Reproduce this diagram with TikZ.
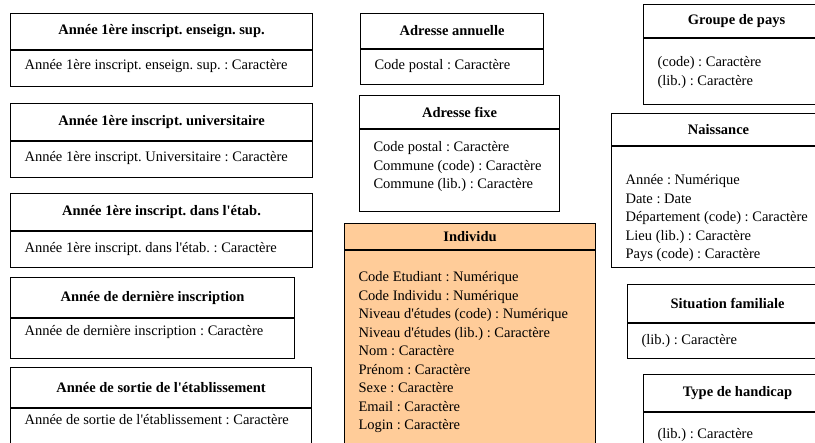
\documentclass[tikz,border=0pt]{standalone}
\usepackage{fontspec}
\setmainfont{Liberation Serif}
\usepackage{tikz}

\begin{document}
\frenchspacing
\begin{tikzpicture}[x=1pt, y=-1pt,
    every node/.style={font=\fontsize{14.5}{18.5}\selectfont},
    titre/.style={draw, line width=1.1pt, anchor=north west, inner sep=0pt,
                  font=\fontsize{14.5}{18.5}\selectfont\bfseries},
    corps/.style={draw, line width=1.1pt, anchor=north west, inner xsep=14pt, inner ysep=0pt}]
    \useasboundingbox (0,0) rectangle (815,443);
    \clip (0,0) rectangle (815,443);

    % colonne de gauche
    \node[titre, minimum width=302pt, minimum height=36pt] at (10,13)  (t1) {Année 1ère inscript. enseign. sup.};
    \node[corps, minimum width=302pt] at (t1.south west) (c1)
        {\parbox[t][36pt][t]{274pt}{\vspace*{6pt}\strut Année 1ère inscript. enseign. sup. : Caractère}};

    \node[titre, minimum width=302pt, minimum height=37pt] at (10,103) (t2) {Année 1ère inscript. universitaire};
    \node[corps, minimum width=302pt] at (t2.south west) (c2)
        {\parbox[t][36pt][t]{274pt}{\vspace*{7pt}\strut Année 1ère inscript. Universitaire : Caractère}};

    \node[titre, minimum width=302pt, minimum height=37pt] at (10,193) (t3) {Année 1ère inscript. dans l\textquotesingle étab.};
    \node[corps, minimum width=302pt] at (t3.south west) (c3)
        {\parbox[t][36pt][t]{274pt}{\vspace*{8pt}\strut Année 1ère inscript. dans l\textquotesingle étab. : Caractère}};

    \node[titre, minimum width=284pt, minimum height=40pt] at (10,277) (t4) {Année de dernière inscription};
    \node[corps, minimum width=284pt] at (t4.south west) (c4)
        {\parbox[t][40pt][t]{256pt}{\vspace*{4pt}\strut Année de dernière inscription : Caractère}};

    \node[titre, minimum width=301pt, minimum height=40pt] at (10,367) (t5) {Année de sortie de l\textquotesingle établissement};
    \node[corps, minimum width=301pt] at (t5.south west) (c5)
        {\parbox[t][60pt][t]{273pt}{\vspace*{3pt}\strut Année de sortie de l\textquotesingle établissement : Caractère}};

    % colonne du milieu
    \node[titre, minimum width=183pt, minimum height=35pt] at (360,13) (annuelle) {Adresse annuelle};
    \node[corps, minimum width=183pt] at (annuelle.south west) (annuelle-c)
        {\parbox[t][35pt][t]{155pt}{\vspace*{7pt}\strut Code postal : Caractère}};

    \node[titre, minimum width=200pt, minimum height=33pt] at (359,95) (fixe) {Adresse fixe};
    \node[corps, minimum width=200pt] at (fixe.south west) (fixe-c)
        {\parbox[t][82pt][t]{172pt}{\vspace*{9pt}\strut Code postal : Caractère\\
         Commune (code) : Caractère\\
         Commune (lib.) : Caractère}};

    \node[titre, fill=orange!40!white, minimum width=251pt, minimum height=26pt] at (344,223) (individu) {Individu};
    \node[corps, fill=orange!40!white, minimum width=251pt] at (individu.south west) (individu-c)
        {\parbox[t][220pt][t]{223pt}{\vspace*{18pt}\strut Code Etudiant : Numérique\\
         Code Individu : Numérique\\
         Niveau d\textquotesingle études (code) : Numérique\\
         Niveau d\textquotesingle études (lib.) : Caractère\\
         Nom : Caractère\\
         Prénom : Caractère\\
         Sexe : Caractère\\
         Email : Caractère\\
         Login : Caractère}};

    % colonne de droite
    \node[titre, minimum width=186pt, minimum height=33pt] at (643,4) (groupe) {Groupe de pays};
    \node[corps, minimum width=186pt] at (groupe.south west) (groupe-c)
        {\parbox[t][66pt][t]{158pt}{\vspace*{15pt}\strut (code) : Caractère\\
         (lib.) : Caractère}};

    \node[titre, minimum width=214pt, minimum height=32pt] at (611,113) (naissance) {Naissance};
    \node[corps, minimum width=214pt] at (naissance.south west) (naissance-c)
        {\parbox[t][121pt][t]{190pt}{\vspace*{25pt}\strut Année : Numérique\\
         Date : Date\\
         Département (code) : Caractère\\
         Lieu (lib.) : Caractère\\
         Pays (code) : Caractère}};

    \node[titre, minimum width=200pt, minimum height=38pt] at (627,284) (situation) {Situation familiale};
    \node[corps, minimum width=200pt] at (situation.south west) (situation-c)
        {\parbox[t][35pt][t]{172pt}{\vspace*{8pt}\strut (lib.) : Caractère}};

    \node[titre, minimum width=188pt, minimum height=37pt] at (643,374) (handicap) {Type de handicap};
    \node[corps, minimum width=188pt] at (handicap.south west) (handicap-c)
        {\parbox[t][60pt][t]{160pt}{\vspace*{13pt}\strut (lib.) : Caractère}};
\end{tikzpicture}
\end{document}
